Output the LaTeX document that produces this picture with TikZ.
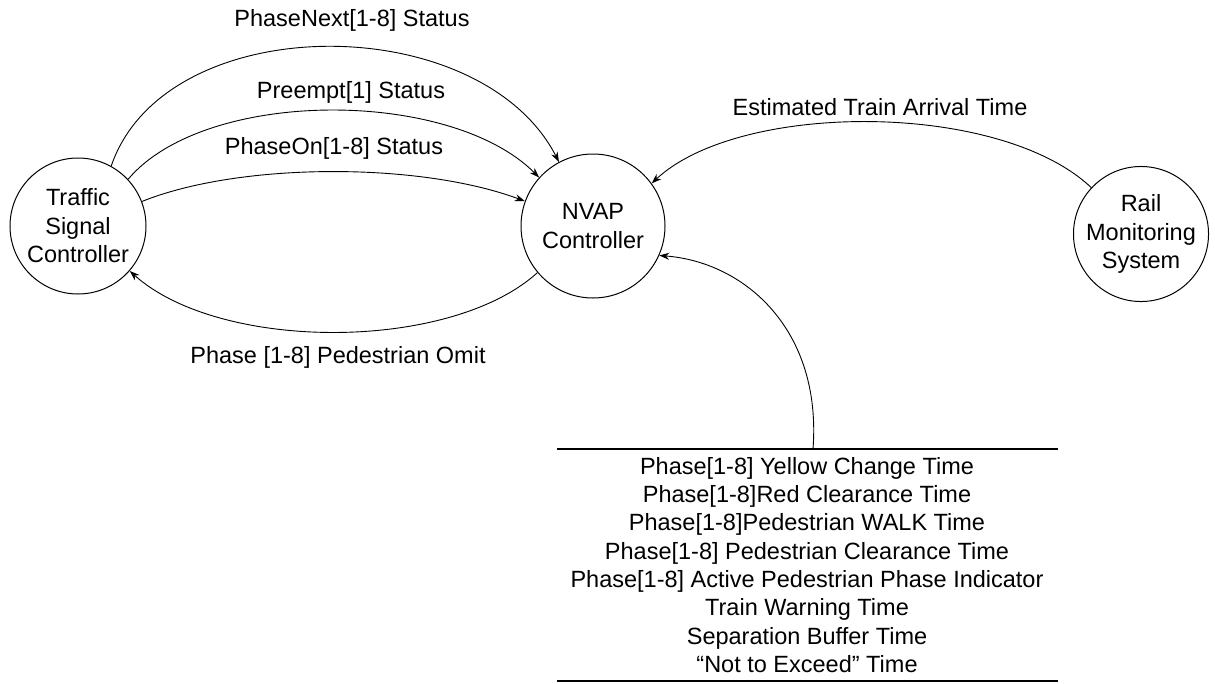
\documentclass[tikz,border=0pt]{standalone}
\usepackage{fontspec}
\setmainfont{Liberation Sans}
\usetikzlibrary{arrows.meta}
\tikzset{
  proc/.style={circle,draw,line width=1pt,inner sep=0pt,align=center,
    font=\fontsize{23.5}{28.5}\selectfont},
  lbl/.style={inner sep=0pt,font=\fontsize{23.5}{28}\selectfont},
  flow/.style={line width=0.9pt,-{Stealth[length=10pt,width=7pt]}},
  store/.style={line width=1.1pt}
}
\begin{document}
\begin{tikzpicture}[x=1pt,y=-1pt]
\useasboundingbox (0,0) rectangle (1215,683);
\node[proc,minimum size=136pt] (ts) at (78,226) {Traffic\\Signal\\Controller};
\node[proc,minimum size=144pt] (nvap) at (593,226) {NVAP\\Controller};
\node[proc,minimum size=128pt] (rail) at (1141,234) {Rail\\Monitoring\\System};

% data store
\coordinate (stl) at (557,449);
\coordinate (str) at (1058,449);
\coordinate (sbl) at (557,681);
\coordinate (sbr) at (1058,681);
\coordinate (stin) at (813,449);
\draw[store] (stl) -- (str);
\draw[store] (sbl) -- (sbr);
\node[lbl,align=center,font=\fontsize{23.5}{28.3}\selectfont] (store) at (807,565)
  {Phase[1-8] Yellow Change Time\\
   Phase[1-8]Red Clearance Time\\
   Phase[1-8]Pedestrian WALK Time\\
   Phase[1-8] Pedestrian Clearance Time\\
   Phase[1-8] Active Pedestrian Phase Indicator\\
   Train Warning Time\\
   Separation Buffer Time\\
   “Not to Exceed” Time};

% flows
\draw[flow] (ts.61) .. controls (165,8) and (480,8) .. (nvap.118);
\draw[flow] (ts.43) .. controls (205,88) and (450,88) .. (nvap.138);
\draw[flow] (ts.21) .. controls (240,162) and (420,162) .. (nvap.160);
\draw[flow] (nvap.220) .. controls (450,352) and (220,352) .. (ts.-41);
\draw[flow] (rail.137) .. controls (1000,101) and (740,101) .. (nvap.36);
\draw[flow] (stin) .. controls (822,330) and (745,262) .. (nvap.-24);

% labels
\node[lbl] (l1) at (352,20) {PhaseNext[1-8] Status};
\node[lbl] (l2) at (351,92) {Preempt[1] Status};
\node[lbl] (l3) at (334,148) {PhaseOn[1-8] Status};
\node[lbl] (l4) at (338,357) {Phase [1-8] Pedestrian Omit};
\node[lbl] (l5) at (880,107) {Estimated Train Arrival Time};
\end{tikzpicture}
\end{document}
